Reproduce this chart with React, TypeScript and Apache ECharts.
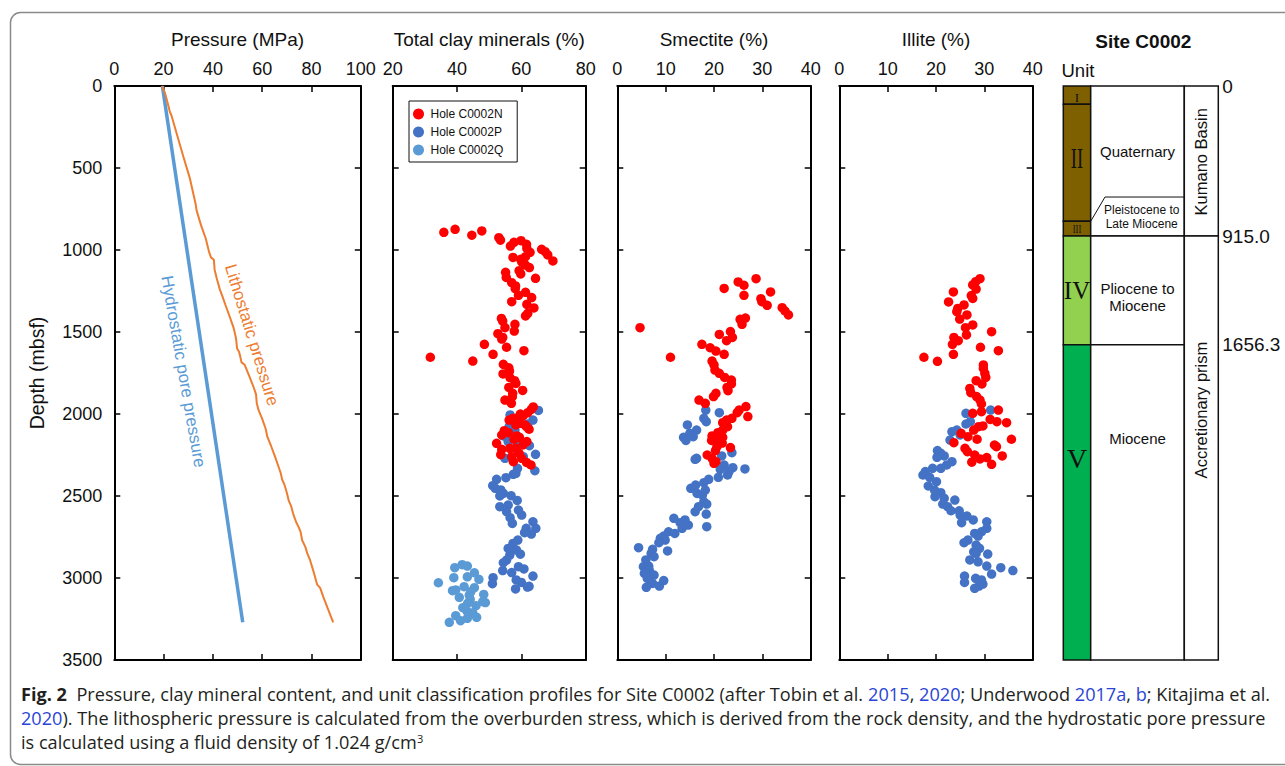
import React, { useEffect, useRef } from 'react';
import * as echarts from 'echarts';

const SANS = 'Liberation Sans';
const SERIF = 'Liberation Serif';
const CAPTION = 'Open Sans';

// ---------- axes ----------
const panelTitles = ['Pressure (MPa)', 'Total clay minerals (%)', 'Smectite (%)', 'Illite (%)'];
const panelMin = [0, 20, 0, 0];
const panelMax = [100, 80, 40, 40];
const panelStep = [20, 20, 10, 10];
const depthMin = 0;
const depthMax = 3500;
const depthStep = 500;

// ---------- legend ----------
const holeNames = ['Hole C0002N', 'Hole C0002P', 'Hole C0002Q'];
const holeColors = ['#FF0000', '#4472C4', '#5B9BD5'];

// ---------- pressure (MPa, depth mbsf) ----------
const hydrostatic = [[19.5, 0], [52.1, 3270]];
const lithostatic = [
  [19.3, 0], [20.5, 40], [21.6, 100], [22.4, 150], [22.6, 160], [23.2, 180], [25.5, 300], [28.0, 430],
  [30.6, 560], [33.0, 720], [33.4, 760], [35.2, 850], [37.1, 930], [37.6, 960], [38.4, 1010], [39.2, 1045],
  [40.4, 1060], [40.7, 1120], [41.6, 1175], [42.8, 1240], [43.8, 1280], [45.2, 1340], [46.9, 1410],
  [48.3, 1470], [48.8, 1500], [49.4, 1540], [49.8, 1600], [50.6, 1620], [51.1, 1650], [51.6, 1685],
  [52.9, 1700], [54.8, 1770], [56.6, 1840], [57.5, 1880], [57.8, 1935], [58.5, 1975], [60.0, 2030],
  [61.4, 2090], [62.1, 2140], [63.6, 2195], [65.2, 2260], [66.6, 2320], [67.5, 2360], [68.1, 2400],
  [69.0, 2430], [70.0, 2480], [70.8, 2530], [71.7, 2560], [72.6, 2610], [73.8, 2660], [74.8, 2690],
  [75.6, 2720], [76.2, 2770], [77.5, 2810], [78.3, 2850], [79.4, 2890], [80.4, 2940], [81.2, 2980],
  [81.9, 3020], [82.3, 3040], [83.5, 3060], [84.9, 3120], [86.7, 3190], [88.8, 3270],
];

// ---------- total clay minerals (%, depth) ----------
const clayN = [
  [35.9, 892], [39.4, 874], [44.6, 910], [47.7, 884], [53.0, 925], [53.5, 940], [56.6, 976], [57.7, 953],
  [59.9, 943], [61.6, 965], [61.7, 990], [62.7, 1014], [66.3, 996], [67.4, 1010], [68.2, 1030], [69.8, 1067],
  [57.4, 1045], [59.8, 1057], [61.3, 1041], [61.2, 1091], [62.5, 1107], [60.1, 1072], [59.3, 1126],
  [59.8, 1146], [64.4, 1173], [55.1, 1136], [55.3, 1167], [57.0, 1199], [58.2, 1219], [58.1, 1236],
  [61.3, 1258], [59.1, 1276], [63.2, 1290], [57.0, 1315], [61.7, 1331], [63.9, 1353], [62.0, 1386],
  [61.3, 1402], [53.8, 1417], [54.2, 1433], [58.0, 1453], [54.9, 1474], [57.8, 1494], [52.7, 1510],
  [54.2, 1533], [53.9, 1543], [48.5, 1575], [55.4, 1593], [60.8, 1614], [51.2, 1636], [31.7, 1654],
  [44.9, 1677], [54.4, 1697], [56.1, 1718], [56.3, 1738], [54.3, 1756], [56.5, 1779], [57.9, 1797],
  [58.3, 1814], [56.1, 1838], [60.4, 1856], [57.3, 1874], [57.2, 1894], [54.9, 1915], [56.9, 1935],
  [63.7, 1957], [63.1, 1972], [62.0, 1992], [59.7, 2000], [59.1, 2020], [60.6, 2010], [56.2, 2037],
  [57.4, 2026], [58.3, 2067], [59.7, 2057], [61.1, 2067], [62.4, 2093], [61.6, 2077], [54.7, 2102],
  [53.9, 2128], [56.0, 2114], [58.6, 2134], [57.7, 2154], [59.4, 2142], [61.7, 2168], [52.3, 2179],
  [60.5, 2189], [56.4, 2209], [53.9, 2215], [58.2, 2209], [59.3, 2240], [53.6, 2248], [57.0, 2260],
  [60.1, 2270], [57.5, 2291], [61.6, 2295], [63.0, 2311],
];
const clayP = [
  [65.3, 1978], [56.5, 2006], [63.6, 2037], [62.0, 2061], [56.2, 2077], [58.0, 2098], [54.4, 2134],
  [55.9, 2168], [62.5, 2193], [58.6, 2195], [64.4, 2246], [54.9, 2270], [60.6, 2260], [64.2, 2346],
  [58.8, 2331], [57.5, 2368], [58.3, 2362], [55.2, 2388], [52.3, 2398], [51.1, 2437], [51.9, 2453],
  [53.6, 2463], [54.4, 2484], [53.3, 2500], [56.8, 2498], [58.7, 2527], [53.3, 2565], [55.9, 2555],
  [55.4, 2596], [59.1, 2586], [60.1, 2616], [56.5, 2632], [57.2, 2667], [63.6, 2657], [64.5, 2697],
  [61.5, 2697], [63.1, 2732], [61.0, 2724], [58.9, 2769], [57.4, 2789], [55.9, 2820], [58.5, 2830],
  [59.7, 2855], [56.4, 2860], [55.4, 2891], [54.4, 2907], [59.1, 2931], [60.8, 2945], [57.0, 2967],
  [54.2, 2955], [63.6, 2988], [51.2, 2998], [58.4, 3012], [60.0, 3027], [51.0, 3035], [62.4, 3051],
  [61.9, 3055], [58.2, 3067],
];
const clayQ = [
  [41.6, 2919], [43.2, 2927], [39.3, 2937], [45.4, 2968], [43.2, 2993], [39.0, 2998], [46.8, 3008],
  [34.2, 3029], [42.2, 3053], [45.4, 3059], [38.6, 3077], [39.6, 3073], [44.3, 3083], [43.8, 3104],
  [48.3, 3100], [40.7, 3118], [44.1, 3130], [48.0, 3144], [48.8, 3150], [43.3, 3154], [45.9, 3169],
  [41.8, 3181], [43.1, 3202], [44.9, 3212], [39.6, 3230], [46.1, 3240], [43.2, 3246], [41.1, 3260],
  [37.6, 3270],
];

// ---------- smectite (%, depth) ----------
const smectiteN = [
  [28.7, 1175], [25.0, 1195], [26.2, 1215], [22.1, 1234], [31.7, 1256], [26.2, 1276], [29.7, 1297],
  [29.9, 1315], [31.0, 1337], [34.1, 1352], [34.7, 1372], [35.4, 1396], [25.4, 1423], [26.5, 1415],
  [25.8, 1453], [4.7, 1474], [23.4, 1497], [21.1, 1515], [23.8, 1533], [22.6, 1553], [17.5, 1575],
  [19.2, 1596], [20.4, 1616], [22.1, 1636], [11.0, 1654], [19.6, 1677], [20.0, 1701], [20.2, 1732],
  [21.1, 1752], [22.2, 1777], [23.6, 1793], [23.6, 1817], [22.7, 1838], [22.9, 1858], [20.4, 1874],
  [19.9, 1894], [16.9, 1915], [18.2, 1935], [26.6, 1955], [25.2, 1976], [24.8, 1992], [27.0, 2016],
  [23.7, 2026], [22.6, 2037], [21.8, 2053], [22.8, 2077], [21.8, 2098], [20.8, 2114], [19.6, 2134],
  [21.8, 2142], [20.6, 2154], [19.5, 2161], [21.7, 2177], [20.6, 2199], [23.4, 2205], [20.3, 2223],
  [18.6, 2250], [19.6, 2270], [20.0, 2301], [20.4, 2291],
];
const smectiteP = [
  [18.3, 1976], [21.1, 1992], [17.9, 2026], [18.4, 2047], [14.5, 2067], [16.4, 2098], [15.0, 2118],
  [13.7, 2142], [14.2, 2161], [15.7, 2138], [23.7, 2236], [21.6, 2256], [16.4, 2270], [16.1, 2276],
  [22.1, 2311], [23.9, 2327], [26.4, 2335], [21.3, 2337], [23.1, 2351], [22.8, 2372], [20.9, 2386],
  [18.9, 2398], [17.9, 2419], [15.2, 2453], [16.2, 2433], [16.5, 2484], [17.6, 2494], [18.2, 2464],
  [17.9, 2535], [18.5, 2549], [16.8, 2565], [16.1, 2596], [18.4, 2610], [11.7, 2636], [14.0, 2646],
  [13.0, 2663], [14.7, 2677], [18.5, 2687], [13.4, 2697], [10.6, 2718], [11.9, 2728], [9.6, 2744],
  [8.9, 2758], [9.9, 2769], [8.6, 2785], [4.4, 2815], [10.4, 2835], [7.3, 2825], [7.0, 2850],
  [7.6, 2870], [5.9, 2890], [5.4, 2931], [6.5, 2927], [6.6, 2951], [5.6, 2972], [7.6, 2982],
  [6.2, 3002], [7.3, 3033], [6.0, 3057], [8.7, 3049], [9.6, 3016],
];

// ---------- illite (%, depth) ----------
const illiteN = [
  [29.1, 1175], [28.2, 1193], [27.6, 1213], [28.3, 1238], [23.6, 1256], [27.3, 1278], [27.6, 1295],
  [22.6, 1317], [25.8, 1335], [24.5, 1356], [24.3, 1376], [26.4, 1396], [24.9, 1421], [27.6, 1457],
  [26.1, 1474], [31.5, 1498], [26.3, 1518], [23.7, 1533], [24.6, 1553], [23.4, 1575], [29.2, 1593],
  [32.9, 1614], [17.5, 1654], [23.6, 1636], [20.3, 1679], [29.8, 1701], [29.8, 1722], [30.1, 1752],
  [30.3, 1777], [28.3, 1797], [29.5, 1817], [27.0, 1844], [27.2, 1870], [28.4, 1894], [29.1, 1915],
  [29.4, 1939], [27.6, 1996], [29.4, 1986], [32.9, 1976], [31.2, 2033], [32.6, 2047], [34.6, 2053],
  [28.8, 2077], [29.7, 2073], [27.8, 2098], [25.2, 2118], [26.6, 2138], [28.5, 2154], [35.6, 2154],
  [23.7, 2175], [32.1, 2189], [32.5, 2199], [26.0, 2209], [26.5, 2230], [28.0, 2250], [33.7, 2256],
  [29.1, 2274], [30.5, 2266], [27.4, 2294], [31.5, 2307],
];
const illiteP = [
  [26.2, 1996], [31.3, 1976], [27.1, 2047], [26.2, 2061], [24.3, 2098], [23.3, 2108], [22.9, 2159],
  [25.0, 2128], [20.3, 2223], [21.0, 2240], [21.7, 2256], [20.2, 2264], [23.3, 2291], [22.2, 2311],
  [21.0, 2331], [19.3, 2331], [17.8, 2351], [17.3, 2372], [18.7, 2386], [20.1, 2413], [18.4, 2439],
  [19.7, 2464], [21.0, 2480], [19.8, 2504], [21.7, 2514], [21.4, 2549], [23.9, 2525], [22.4, 2565],
  [23.1, 2590], [24.8, 2590], [25.0, 2616], [26.4, 2622], [25.3, 2663], [27.7, 2646], [30.5, 2657],
  [30.5, 2697], [29.4, 2718], [28.0, 2728], [28.7, 2744], [26.6, 2769], [25.8, 2785], [28.3, 2799],
  [29.0, 2819], [27.8, 2840], [28.3, 2850], [30.7, 2854], [27.0, 2890], [28.7, 2901], [30.5, 2927],
  [33.4, 2937], [35.9, 2955], [31.5, 2976], [25.9, 2988], [28.2, 3002], [29.4, 3012], [25.9, 3027],
  [29.7, 3037], [28.9, 3049], [28.0, 3063],
];

// ---------- unit column (drawn depths) ----------
const unitNames = ['I', 'II', 'III', 'IV', 'V'];
const unitTops = [0, 112, 825, 915, 1577];
const unitBottoms = [112, 825, 915, 1577, 3500];
const unitLabelDepths = [69, 435, 870, 1248, 2274];
const unitColors = ['#7F6000', '#7F6000', '#7F6000', '#92D050', '#00B050'];

const ageTops = [0, 915, 1577];
const ageBottoms = [915, 1577, 3500];
const ageLabels = [['Quaternary'], ['Pliocene to', 'Miocene'], ['Miocene']];
const ageLabelDepths = [397, 1285, 2148];
const subAgeLabel = ['Pleistocene to', 'Late Miocene'];
const subAgeTop = 677;
const subAgeBottom = 825;

const settingTops = [0, 915];
const settingBottoms = [915, 3500];
const settingLabels = ['Kumano Basin', 'Accretionary prism'];
const settingLabelDepths = [462, 1976];

const boundaryLabels = ['0', '915.0', '1656.3'];
const boundaryDrawnDepths = [0, 915, 1577];

// ---------- layout (styles / positions) ----------
const TOP = 86;
const HEIGHT = 574;
const gridLefts = [114.3, 392.7, 617.3, 839.3];
const gridWidths = [246.5, 193, 193.4, 193.4];
const COL1 = 27.4;
const COL2 = 121;
const COL3 = 155;
const unitFontSizes = [13, 30, 12, 25, 28];
const unitScaleX = [1, 0.62, 0.72, 1, 1];

function txt(text: string, x: number, y: number, extra: any = {}, el: any = {}) {
  return {
    type: 'text',
    x, y,
    ...el,
    style: {
      text,
      fill: '#111',
      fontFamily: SANS,
      fontSize: 15,
      align: 'center',
      verticalAlign: 'middle',
      textAlign: 'center',
      textVerticalAlign: 'middle',
      ...extra,
    },
  };
}

function buildOption() {
  const axisLine = { show: true, onZero: false, lineStyle: { color: '#000', width: 2 } };
  const tick = { show: true, inside: true, length: 6, lineStyle: { color: '#000', width: 1.5 } };
  const plain = (v: number) => String(v);

  const grid: any[] = gridLefts.map((l, i) => ({ left: l, top: TOP, width: gridWidths[i], height: HEIGHT }));
  grid.push({ left: 1063.3, top: TOP, width: COL3, height: HEIGHT });

  const xAxis: any[] = [];
  const yAxis: any[] = [];
  for (let i = 0; i < 4; i++) {
    xAxis.push({
      type: 'value', gridIndex: i, position: 'top', min: panelMin[i], max: panelMax[i], interval: panelStep[i],
      name: panelTitles[i], nameLocation: 'middle', nameGap: 37, nameMoveOverlap: false,
      nameTextStyle: { fontSize: 19, color: '#111', fontFamily: SANS },
      axisLine, axisTick: tick,
      axisLabel: { fontSize: 18, color: '#111', margin: 8, fontFamily: SANS, formatter: plain },
      splitLine: { show: false },
    });
    xAxis.push({
      type: 'value', gridIndex: i, position: 'bottom', min: panelMin[i], max: panelMax[i], interval: panelStep[i],
      axisLine, axisTick: tick, axisLabel: { show: false }, splitLine: { show: false },
    });
    yAxis.push({
      type: 'value', gridIndex: i, position: 'left', inverse: true, min: depthMin, max: depthMax, interval: depthStep,
      name: i === 0 ? 'Depth (mbsf)' : '', nameLocation: 'middle', nameGap: 67,
      nameTextStyle: { fontSize: 19.5, color: '#111', fontFamily: SANS },
      axisLine, axisTick: tick,
      axisLabel: { show: i === 0, fontSize: 18, color: '#111', margin: 12, fontFamily: SANS, formatter: plain },
      splitLine: { show: false },
    });
    yAxis.push({
      type: 'value', gridIndex: i, position: 'right', inverse: true, min: depthMin, max: depthMax, interval: depthStep,
      axisLine, axisTick: tick, axisLabel: { show: false }, splitLine: { show: false },
    });
  }
  xAxis.push({ type: 'value', gridIndex: 4, min: 0, max: COL3, show: false });
  yAxis.push({ type: 'value', gridIndex: 4, inverse: true, min: depthMin, max: depthMax, show: false });

  const scatter = (name: string, color: string, data: number[][], panel: number) => ({
    type: 'scatter', name, data, xAxisIndex: panel * 2, yAxisIndex: panel * 2,
    symbol: 'circle', symbolSize: 9.5, itemStyle: { color, opacity: 1 }, silent: true,
  });

  const series: any[] = [
    {
      type: 'line', name: 'Hydrostatic pore pressure', data: hydrostatic, xAxisIndex: 0, yAxisIndex: 0,
      showSymbol: false, lineStyle: { color: '#5B9BD5', width: 3.5 }, silent: true,
    },
    {
      type: 'line', name: 'Lithostatic pressure', data: lithostatic, xAxisIndex: 0, yAxisIndex: 0,
      showSymbol: false, lineStyle: { color: '#ED7D31', width: 2 }, silent: true,
    },
    scatter(holeNames[1], holeColors[1], clayP, 1),
    scatter(holeNames[2], holeColors[2], clayQ, 1),
    scatter(holeNames[0], holeColors[0], clayN, 1),
    scatter(holeNames[1], holeColors[1], smectiteP, 2),
    scatter(holeNames[0], holeColors[0], smectiteN, 2),
    scatter(holeNames[1], holeColors[1], illiteP, 3),
    scatter(holeNames[0], holeColors[0], illiteN, 3),
    // unit column
    {
      type: 'custom', xAxisIndex: 8, yAxisIndex: 8, silent: true, clip: false,
      data: unitNames.map((_, i) => [i, unitTops[i], unitBottoms[i], unitLabelDepths[i]]),
      renderItem: (params: any, api: any) => {
        const i = params.dataIndex;
        const a = api.coord([0, api.value(1)]);
        const b = api.coord([COL1, api.value(2)]);
        const c = api.coord([COL1 / 2, api.value(3)]);
        return {
          type: 'group',
          children: [
            { type: 'rect', shape: { x: a[0], y: a[1], width: b[0] - a[0], height: b[1] - a[1] },
              style: { fill: unitColors[i], stroke: '#111', lineWidth: 1.5 } },
            txt(unitNames[i], c[0], c[1], { fontFamily: SERIF, fontSize: unitFontSizes[i], fill: '#111' },
              { scaleX: unitScaleX[i] }),
          ],
        };
      },
    },
    // age column
    {
      type: 'custom', xAxisIndex: 8, yAxisIndex: 8, silent: true, clip: false,
      data: ageTops.map((t, i) => [i, t, ageBottoms[i], ageLabelDepths[i]]),
      renderItem: (params: any, api: any) => {
        const i = params.dataIndex;
        const a = api.coord([COL1, api.value(1)]);
        const b = api.coord([COL2, api.value(2)]);
        const c = api.coord([(COL1 + COL2) / 2, api.value(3)]);
        const lines = ageLabels[i];
        const children: any[] = [
          { type: 'rect', shape: { x: a[0], y: a[1], width: b[0] - a[0], height: b[1] - a[1] },
            style: { fill: '#fff', stroke: '#111', lineWidth: 1.5 } },
        ];
        lines.forEach((s, k) => {
          children.push(txt(s, c[0], c[1] + (k - (lines.length - 1) / 2) * 17, { fontSize: 15 }));
        });
        if (i === 0) {
          const p1 = api.coord([COL1, subAgeBottom]);
          const p2 = api.coord([41.7, subAgeTop]);
          const p3 = api.coord([COL2, subAgeTop]);
          children.push({ type: 'polyline', shape: { points: [p1, p2, p3] },
            style: { stroke: '#111', lineWidth: 1, fill: null } });
          const m = api.coord([78.4, (subAgeTop + 915) / 2]);
          subAgeLabel.forEach((s, k) => {
            children.push(txt(s, m[0], m[1] + (k - 0.5) * 14, { fontSize: 12 }));
          });
        }
        return { type: 'group', children };
      },
    },
    // tectonic setting column
    {
      type: 'custom', xAxisIndex: 8, yAxisIndex: 8, silent: true, clip: false,
      data: settingTops.map((t, i) => [i, t, settingBottoms[i], settingLabelDepths[i]]),
      renderItem: (params: any, api: any) => {
        const i = params.dataIndex;
        const a = api.coord([COL2, api.value(1)]);
        const b = api.coord([COL3, api.value(2)]);
        const c = api.coord([(COL2 + COL3) / 2, api.value(3)]);
        return {
          type: 'group',
          children: [
            { type: 'rect', shape: { x: a[0], y: a[1], width: b[0] - a[0], height: b[1] - a[1] },
              style: { fill: '#fff', stroke: '#111', lineWidth: 1.5 } },
            txt(settingLabels[i], c[0], c[1], { fontSize: 16.5 }, { rotation: Math.PI / 2 }),
          ],
        };
      },
    },
    // boundary depth labels
    {
      type: 'custom', xAxisIndex: 8, yAxisIndex: 8, silent: true, clip: false,
      data: boundaryLabels.map((_, i) => [i, boundaryDrawnDepths[i]]),
      renderItem: (params: any, api: any) => {
        const i = params.dataIndex;
        const p = api.coord([COL3, api.value(1)]);
        return txt(boundaryLabels[i], p[0] + 4, p[1], { fontSize: 19, align: 'left', textAlign: 'left' });
      },
    },
  ];

  const blue = '#2B45D6';
  const capStyle = { fontFamily: CAPTION, fontSize: 18, fill: '#231F20' };
  const rich = {
    b: { fontFamily: CAPTION, fontSize: 18, fontWeight: 'bold', fill: '#231F20' },
    l: { fontFamily: CAPTION, fontSize: 18, fill: blue },
    s: { fontFamily: CAPTION, fontSize: 11, fill: '#231F20', verticalAlign: 'top' },
  };
  const capText = (t: string, y: number) => ({
    type: 'text', x: 21, y, scaleX: 1.008,
    style: { text: t, ...capStyle, rich, align: 'left', verticalAlign: 'middle', textAlign: 'left', textVerticalAlign: 'middle' },
  });

  const graphic: any[] = [
    { type: 'rect', shape: { x: 10.5, y: 12.5, width: 1300, height: 752, r: 10 },
      style: { fill: null, stroke: '#8a8a8a', lineWidth: 1.5 }, z: -10 },
    txt('Hydrostatic pore pressure', 183.3, 371.7, { fontSize: 17, fill: '#5B9BD5' }, { rotation: -1.398 }),
    txt('Lithostatic pressure', 251.7, 335, { fontSize: 17, fill: '#ED7D31' }, { rotation: -1.271 }),
    txt('Site C0002', 1143.3, 41, { fontSize: 19, fontWeight: 'bold' }),
    txt('Unit', 1061.5, 70, { fontSize: 18.5, align: 'left', textAlign: 'left' }),
    capText('{b|Fig. 2}  Pressure, clay mineral content, and unit classification profiles for Site C0002 (after Tobin et al. {l|2015}, {l|2020}; Underwood {l|2017a}, {l|b}; Kitajima et al.', 694),
    capText('{l|2020}). The lithospheric pressure is calculated from the overburden stress, which is derived from the rock density, and the hydrostatic pore pressure', 718.5),
    capText('is calculated using a fluid density of 1.024 g/cm{s|3}', 742.5),
  ];

  return {
    animation: false,
    backgroundColor: '#fff',
    textStyle: { fontFamily: SANS },
    grid,
    xAxis,
    yAxis,
    legend: {
      data: holeNames, orient: 'vertical', left: 409, top: 101,
      padding: [7, 14, 6, 4], itemGap: 6, itemWidth: 14, itemHeight: 11, icon: 'circle',
      borderColor: '#111', borderWidth: 1, selectedMode: false,
      textStyle: { fontSize: 12, color: '#111', fontFamily: SANS },
    },
    series,
    graphic,
  };
}

export default function App() {
  const ref = useRef<HTMLDivElement>(null);
  useEffect(() => {
    const chart = echarts.init(ref.current!, null, { renderer: 'svg' });
    chart.setOption(buildOption() as any);
    return () => chart.dispose();
  }, []);
  return (
    <div
      ref={ref}
      style={{ position: 'fixed', left: 0, top: 0, width: 1285, height: 766, background: '#fff' }}
    />
  );
}
